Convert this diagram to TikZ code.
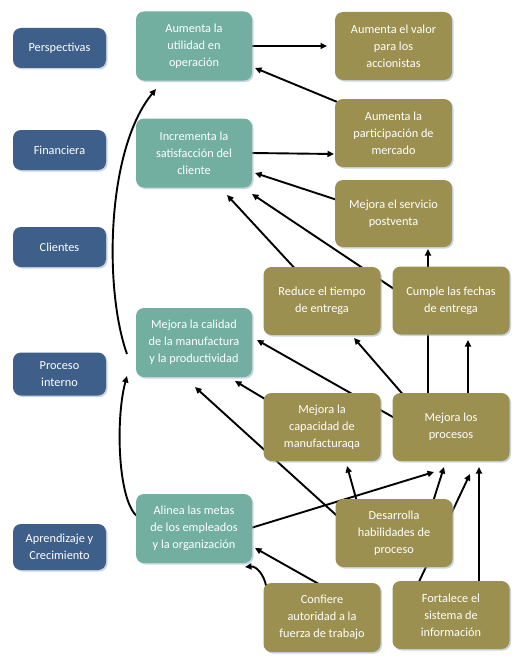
\documentclass[tikz,border=0pt]{standalone}
\usepackage{fontspec}
\setmainfont{Carlito}
\usetikzlibrary{arrows.meta,calc,shadows,backgrounds}
\definecolor{bluebox}{HTML}{3D5F8A}
\definecolor{tealbox}{HTML}{72AFA1}
\definecolor{olivebox}{HTML}{9C9050}
\definecolor{shadowc}{HTML}{9DB3CF}
\begin{document}
\begin{tikzpicture}[x=1pt,y=-1pt,
  box/.style={rounded corners=8pt, text=white, align=center,
    font=\fontsize{12.3}{17}\selectfont, inner sep=2pt,
    drop shadow={shadow xshift=1.5pt,shadow yshift=-1.5pt,opacity=0.55,fill=shadowc}},
  perspbox/.style={box, fill=bluebox, minimum width=93pt, minimum height=40pt},
  tealb/.style={box, fill=tealbox, minimum width=116pt, minimum height=69pt},
  oliveb/.style={box, fill=olivebox, minimum width=117pt, minimum height=68pt},
  conn/.style={line width=1.9pt, -{Triangle[length=6.5pt,width=6pt]}},
  plainconn/.style={line width=1.9pt}]
\useasboundingbox (0,0) rectangle (527,661);

% perspectives
\node[perspbox] (persp) at (59.5,48) {Perspectivas};
\node[perspbox] (finan) at (59.5,150) {Financiera};
\node[perspbox] (clien) at (59.5,247) {Clientes};
\node[perspbox, minimum height=43pt] (proc) at (59.5,374) {Proceso\\interno};
\node[perspbox, minimum height=46pt] (aprend) at (59.5,547) {Aprendizaje y\\Crecimiento};

% teal
\node[tealb] (util) at (194,46) {Aumenta la\\utilidad en\\operación};
\node[tealb] (satis) at (194,153) {Incrementa la\\satisfacción del\\cliente};
\node[tealb] (calid) at (194,342.5) {Mejora la calidad\\de la manufactura\\y la productividad};
\node[tealb] (alinea) at (194,528.5) {Alinea las metas\\de los empleados\\y la organización};

% olive
\node[oliveb] (valor) at (393.5,46) {Aumenta el valor\\para los\\accionistas};
\node[oliveb] (partic) at (393.5,133) {Aumenta la\\participación de\\mercado};
\node[oliveb, minimum height=67pt] (postv) at (393.5,213.5) {Mejora el servicio\\postventa};
\node[oliveb] (reduce) at (322,301) {Reduce el tiempo\\de entrega};
\node[oliveb] (cumple) at (451,300.5) {Cumple las fechas\\de entrega};
\node[oliveb] (capac) at (322,427) {Mejora la\\capacidad de\\manufacturaqa};
\node[oliveb] (mejproc) at (451,427) {Mejora los\\procesos};
\node[oliveb] (desarr) at (394,533) {Desarrolla\\habilidades de\\proceso};
\node[oliveb, minimum height=69pt] (confiere) at (322,617.5) {Confiere\\autoridad a la\\fuerza de trabajo};
\node[oliveb] (fortal) at (451,615) {Fortalece el\\sistema de\\información};

% free arrow ends
\coordinate (t1) at (327,46);
\coordinate (t2) at (255,68);
\coordinate (t3) at (334,154);
\coordinate (t4) at (255,173);
\coordinate (t5) at (227,195);
\coordinate (t6) at (252,194);
\coordinate (t7) at (428,249);
\coordinate (t8) at (354,338);
\coordinate (t10) at (468,340);
\coordinate (t11) at (257,340);
\coordinate (t12) at (235,381);
\coordinate (t13) at (195,387);
\coordinate (t14) at (434,472);
\coordinate (t15) at (347,466);
\coordinate (t16) at (444,467);
\coordinate (t17) at (470,474);
\coordinate (t18) at (479,467);
\coordinate (t19) at (255,548);
\coordinate (t20) at (245,567);
\coordinate (t21) at (127,376);
\coordinate (t22) at (156,89);
\coordinate (s22) at (127,354);

\begin{pgfonlayer}{background}
\fill[white] (0,0) rectangle (527,661);
\draw[conn] (util.east) -- (t1);
\draw[conn] ($(partic.north west)+(2,3)$) -- (t2);
\draw[conn] (satis.east) -- (t3);
\draw[conn] ($(postv.west)+(4,-13)$) -- (t4);
\draw[conn] ($(reduce.north)+(-25,4)$) -- (t5);
\draw[conn] ($(cumple.west)+(4,-10)$) -- (t6);
\draw[conn] ($(cumple.north)+(-23,3)$) -- (t7);
\draw[conn] ($(mejproc.north)+(-46,4)$) -- (t8);
\draw[plainconn] ($(mejproc.north)+(-23,3)$) -- ($(cumple.south)+(-23,-3)$);
\draw[conn] ($(mejproc.north)+(17,3)$) -- (t10);
\draw[conn] ($(mejproc.west)+(4,-8)$) -- (t11);
\draw[conn] ($(capac.north west)+(3,7)$) -- (t12);
\draw[conn] ($(desarr.west)+(3,-16)$) -- (t13);
\draw[conn] ($(alinea.east)+(-3,0)$) -- (t14);
\draw[conn] ($(desarr.north)+(-37,3)$) -- (t15);
\draw[conn] ($(desarr.north)+(39,3)$) -- (t16);
\draw[conn] ($(fortal.north)+(-33,3)$) -- (t17);
\draw[conn] ($(fortal.north)+(28,3)$) -- (t18);
\draw[conn] ($(confiere.north)+(0,3)$) -- (t19);
\draw[conn] ($(confiere.north west)+(3,4)$) .. controls (264,574) and (256,566) .. (t20);
\draw[conn] ($(alinea.west)+(3,-11)$) .. controls (118,505) and (115,420) .. (t21);
\draw[conn] (s22) .. controls (104,290) and (106,150) .. (t22);
\end{pgfonlayer}
\end{tikzpicture}
\end{document}
